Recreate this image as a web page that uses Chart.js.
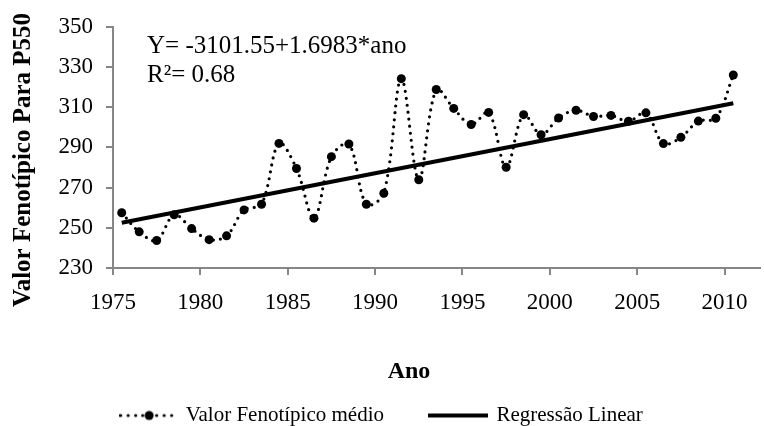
<!DOCTYPE html>
<html lang="pt">
<head>
<meta charset="utf-8">
<title>Valor Fenotípico Para P550</title>
<script src="https://cdn.jsdelivr.net/npm/chart.js@4.4.1/dist/chart.umd.min.js"></script>
<style>
  html, body { margin: 0; padding: 0; background: #fff; }
  #caixa { width: 764px; height: 426px; }
</style>
</head>
<body>
<div id="caixa"><canvas id="grafico"></canvas></div>
<script>
// dados
const anos = [1975, 1976, 1977, 1978, 1979, 1980, 1981, 1982, 1983, 1984,
              1985, 1986, 1987, 1988, 1989, 1990, 1991, 1992, 1993, 1994,
              1995, 1996, 1997, 1998, 1999, 2000, 2001, 2002, 2003, 2004,
              2005, 2006, 2007, 2008, 2009, 2010];
const valorMedio = [257.5, 248.0, 243.7, 256.5, 249.6, 244.1, 246.0, 258.9, 261.7, 292.0,
                    279.5, 254.8, 285.4, 291.7, 261.7, 267.2, 324.2, 273.9, 318.8, 309.4,
                    301.4, 307.4, 280.1, 306.3, 296.3, 304.6, 308.5, 305.4, 305.9, 303.0,
                    307.2, 291.9, 295.0, 303.1, 304.5, 326.0];
const anosRegressao = [1975, 2010];
const regressao = [252.5, 312.0];
const ticksAno = [1975, 1980, 1985, 1990, 1995, 2000, 2005, 2010];
const ticksValor = [230, 250, 270, 290, 310, 330, 350];
const equacao = ['Y= -3101.55+1.6983*ano', 'R²= 0.68'];

// cada ano é uma categoria; o ponto fica no meio dela
const centro = (ano) => ano + 0.5;

Chart.defaults.font.family = '"Liberation Serif", "Times New Roman", serif';
Chart.defaults.color = '#000';

function simboloPontilhado() {
  const c = document.createElement('canvas');
  c.width = 56; c.height = 12;
  const g = c.getContext('2d');
  g.fillStyle = '#000';
  [1.5, 9, 16.5, 23.5, 37.5, 45, 52.5].forEach(x => {
    g.beginPath(); g.arc(x, 6, 1.6, 0, 2 * Math.PI); g.fill();
  });
  g.beginPath(); g.arc(30, 6, 4.5, 0, 2 * Math.PI); g.fill();
  return c;
}

function simboloLinha() {
  const c = document.createElement('canvas');
  c.width = 60; c.height = 12;
  const g = c.getContext('2d');
  g.fillStyle = '#000';
  g.fillRect(0, 4, 60, 4);
  return c;
}

const simbolos = [simboloPontilhado(), simboloLinha()];

const textos = {
  id: 'textos',
  afterDraw(chart) {
    const { ctx, chartArea } = chart;
    ctx.save();
    ctx.fillStyle = '#000';
    ctx.font = '25px "Liberation Serif"';
    ctx.textAlign = 'left';
    ctx.textBaseline = 'alphabetic';
    ctx.fillText(equacao[0], chartArea.left + 34, 52.5);
    ctx.fillText(equacao[1], chartArea.left + 34, 81.5);

    ctx.font = 'bold 24px "Liberation Serif"';
    ctx.textAlign = 'center';
    ctx.textBaseline = 'middle';
    ctx.fillText('Ano', 409, 372);

    ctx.translate(24, 160);
    ctx.rotate(-Math.PI / 2);
    ctx.font = 'bold 25px "Liberation Serif"';
    ctx.fillText('Valor Fenotípico Para P550', 0, 0);
    ctx.restore();
  }
};

const eixoCor = '#868686';

new Chart(document.getElementById('grafico'), {
  type: 'line',
  data: {
    datasets: [{
      label: 'Valor Fenotípico médio',
      data: anos.map((a, i) => ({ x: centro(a), y: valorMedio[i] })),
      borderColor: '#000',
      borderWidth: 3.2,
      borderDash: [0, 7],
      borderCapStyle: 'round',
      tension: 0.35,
      pointRadius: 4.5,
      pointBackgroundColor: '#000',
      pointBorderWidth: 0,
      order: 1
    }, {
      label: 'Regressão Linear',
      data: anosRegressao.map((a, i) => ({ x: centro(a), y: regressao[i] })),
      borderColor: '#000',
      borderWidth: 4,
      pointRadius: 0,
      order: 0
    }]
  },
  options: {
    responsive: true,
    maintainAspectRatio: false,
    animation: false,
    events: [],
    layout: { padding: { top: 23, right: 2, left: 0, bottom: 0 } },
    plugins: {
      tooltip: { enabled: false },
      legend: {
        position: 'bottom',
        align: 'center',
        maxHeight: 67,
        labels: {
          usePointStyle: true,
          pointStyleWidth: 56,
          padding: 46,
          font: { size: 21 },
          color: '#000',
          generateLabels: (chart) => chart.data.datasets.map((ds, i) => ({
            text: ds.label,
            pointStyle: simbolos[i],
            datasetIndex: i,
            hidden: false,
            lineWidth: 0,
            fontColor: '#000'
          }))
        }
      }
    },
    scales: {
      x: {
        type: 'linear',
        min: 1975,
        max: 2012,
        afterBuildTicks: (s) => { s.ticks = ticksAno.map(v => ({ value: v })); },
        afterFit: (s) => { s.height = 91; },
        grid: { drawOnChartArea: false, tickLength: 7, color: eixoCor, lineWidth: 2 },
        border: { color: eixoCor, width: 2 },
        ticks: { font: { size: 23 }, color: '#000', padding: 14, maxRotation: 0, autoSkip: false,
                 callback: (v) => String(v) }
      },
      y: {
        min: 230,
        max: 350,
        afterBuildTicks: (s) => { s.ticks = ticksValor.map(v => ({ value: v })); },
        afterFit: (s) => { s.width = 113; },
        grid: { drawOnChartArea: false, tickLength: 7, color: eixoCor, lineWidth: 2 },
        border: { color: eixoCor, width: 2 },
        ticks: { font: { size: 23 }, color: '#000', padding: 13 }
      }
    }
  },
  plugins: [textos]
});
</script>
</body>
</html>
